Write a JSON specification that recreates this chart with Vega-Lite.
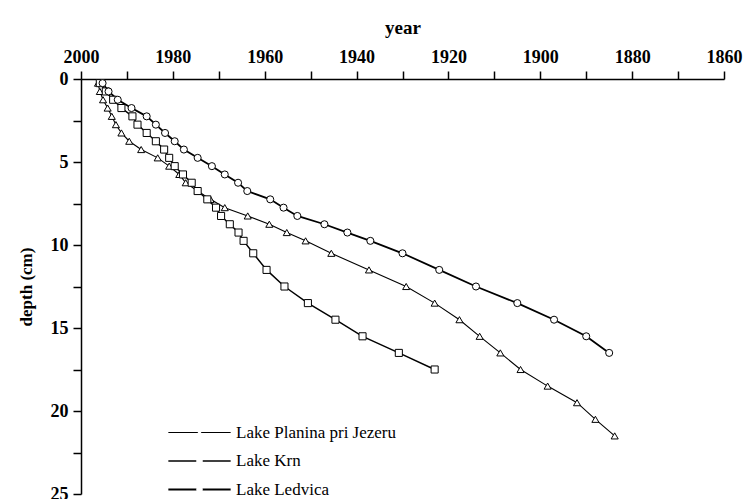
{
  "$schema": "https://vega.github.io/schema/vega-lite/v6.json",
  "width": 643,
  "height": 415,
  "autosize": "none",
  "padding": {"left": 81, "top": 79, "right": 24, "bottom": 5},
  "background": "white",
  "config": {"view": {"stroke": null}, "font": "Liberation Serif"},
  "data": {"values": [
    {"lake": "Lake Planina pri Jezeru", "depth": 0.25, "year": 1996.3},
    {"lake": "Lake Planina pri Jezeru", "depth": 0.75, "year": 1995.9},
    {"lake": "Lake Planina pri Jezeru", "depth": 1.25, "year": 1995.2},
    {"lake": "Lake Planina pri Jezeru", "depth": 1.75, "year": 1994.2},
    {"lake": "Lake Planina pri Jezeru", "depth": 2.25, "year": 1993.3},
    {"lake": "Lake Planina pri Jezeru", "depth": 2.75, "year": 1992.4},
    {"lake": "Lake Planina pri Jezeru", "depth": 3.25, "year": 1991.2},
    {"lake": "Lake Planina pri Jezeru", "depth": 3.75, "year": 1989.5},
    {"lake": "Lake Planina pri Jezeru", "depth": 4.25, "year": 1986.9},
    {"lake": "Lake Planina pri Jezeru", "depth": 4.75, "year": 1983.3},
    {"lake": "Lake Planina pri Jezeru", "depth": 5.25, "year": 1980.8},
    {"lake": "Lake Planina pri Jezeru", "depth": 5.75, "year": 1978.6},
    {"lake": "Lake Planina pri Jezeru", "depth": 6.25, "year": 1977.2},
    {"lake": "Lake Planina pri Jezeru", "depth": 6.75, "year": 1974.6},
    {"lake": "Lake Planina pri Jezeru", "depth": 7.25, "year": 1971.8},
    {"lake": "Lake Planina pri Jezeru", "depth": 7.75, "year": 1968.7},
    {"lake": "Lake Planina pri Jezeru", "depth": 8.25, "year": 1963.7},
    {"lake": "Lake Planina pri Jezeru", "depth": 8.75, "year": 1959.0},
    {"lake": "Lake Planina pri Jezeru", "depth": 9.25, "year": 1955.2},
    {"lake": "Lake Planina pri Jezeru", "depth": 9.75, "year": 1951.1},
    {"lake": "Lake Planina pri Jezeru", "depth": 10.5, "year": 1945.5},
    {"lake": "Lake Planina pri Jezeru", "depth": 11.5, "year": 1937.3},
    {"lake": "Lake Planina pri Jezeru", "depth": 12.5, "year": 1929.2},
    {"lake": "Lake Planina pri Jezeru", "depth": 13.5, "year": 1923.0},
    {"lake": "Lake Planina pri Jezeru", "depth": 14.5, "year": 1917.6},
    {"lake": "Lake Planina pri Jezeru", "depth": 15.5, "year": 1913.2},
    {"lake": "Lake Planina pri Jezeru", "depth": 16.5, "year": 1908.7},
    {"lake": "Lake Planina pri Jezeru", "depth": 17.5, "year": 1904.3},
    {"lake": "Lake Planina pri Jezeru", "depth": 18.5, "year": 1898.4},
    {"lake": "Lake Planina pri Jezeru", "depth": 19.5, "year": 1892.0},
    {"lake": "Lake Planina pri Jezeru", "depth": 20.5, "year": 1888.0},
    {"lake": "Lake Planina pri Jezeru", "depth": 21.5, "year": 1883.8},
    {"lake": "Lake Krn", "depth": 0.25, "year": 1995.9},
    {"lake": "Lake Krn", "depth": 0.75, "year": 1994.6},
    {"lake": "Lake Krn", "depth": 1.25, "year": 1993.0},
    {"lake": "Lake Krn", "depth": 1.75, "year": 1991.2},
    {"lake": "Lake Krn", "depth": 2.25, "year": 1988.8},
    {"lake": "Lake Krn", "depth": 2.75, "year": 1987.7},
    {"lake": "Lake Krn", "depth": 3.25, "year": 1985.7},
    {"lake": "Lake Krn", "depth": 3.75, "year": 1983.7},
    {"lake": "Lake Krn", "depth": 4.25, "year": 1981.9},
    {"lake": "Lake Krn", "depth": 4.75, "year": 1980.8},
    {"lake": "Lake Krn", "depth": 5.25, "year": 1979.6},
    {"lake": "Lake Krn", "depth": 5.75, "year": 1977.8},
    {"lake": "Lake Krn", "depth": 6.25, "year": 1975.9},
    {"lake": "Lake Krn", "depth": 6.75, "year": 1974.6},
    {"lake": "Lake Krn", "depth": 7.25, "year": 1972.5},
    {"lake": "Lake Krn", "depth": 7.75, "year": 1970.6},
    {"lake": "Lake Krn", "depth": 8.25, "year": 1969.5},
    {"lake": "Lake Krn", "depth": 8.75, "year": 1967.6},
    {"lake": "Lake Krn", "depth": 9.25, "year": 1965.7},
    {"lake": "Lake Krn", "depth": 9.75, "year": 1964.6},
    {"lake": "Lake Krn", "depth": 10.5, "year": 1962.5},
    {"lake": "Lake Krn", "depth": 11.5, "year": 1959.6},
    {"lake": "Lake Krn", "depth": 12.5, "year": 1955.7},
    {"lake": "Lake Krn", "depth": 13.5, "year": 1950.6},
    {"lake": "Lake Krn", "depth": 14.5, "year": 1944.6},
    {"lake": "Lake Krn", "depth": 15.5, "year": 1938.7},
    {"lake": "Lake Krn", "depth": 16.5, "year": 1930.8},
    {"lake": "Lake Krn", "depth": 17.5, "year": 1923.0},
    {"lake": "Lake Ledvica", "depth": 0.25, "year": 1995.3},
    {"lake": "Lake Ledvica", "depth": 0.75, "year": 1994.0},
    {"lake": "Lake Ledvica", "depth": 1.25, "year": 1992.0},
    {"lake": "Lake Ledvica", "depth": 1.75, "year": 1989.0},
    {"lake": "Lake Ledvica", "depth": 2.25, "year": 1985.7},
    {"lake": "Lake Ledvica", "depth": 2.75, "year": 1983.7},
    {"lake": "Lake Ledvica", "depth": 3.25, "year": 1981.7},
    {"lake": "Lake Ledvica", "depth": 3.75, "year": 1979.6},
    {"lake": "Lake Ledvica", "depth": 4.25, "year": 1977.6},
    {"lake": "Lake Ledvica", "depth": 4.75, "year": 1974.6},
    {"lake": "Lake Ledvica", "depth": 5.25, "year": 1971.5},
    {"lake": "Lake Ledvica", "depth": 5.75, "year": 1968.7},
    {"lake": "Lake Ledvica", "depth": 6.25, "year": 1965.8},
    {"lake": "Lake Ledvica", "depth": 6.75, "year": 1963.8},
    {"lake": "Lake Ledvica", "depth": 7.25, "year": 1958.8},
    {"lake": "Lake Ledvica", "depth": 7.75, "year": 1955.9},
    {"lake": "Lake Ledvica", "depth": 8.25, "year": 1952.9},
    {"lake": "Lake Ledvica", "depth": 8.75, "year": 1947.0},
    {"lake": "Lake Ledvica", "depth": 9.25, "year": 1942.0},
    {"lake": "Lake Ledvica", "depth": 9.75, "year": 1937.0},
    {"lake": "Lake Ledvica", "depth": 10.5, "year": 1930.0},
    {"lake": "Lake Ledvica", "depth": 11.5, "year": 1922.0},
    {"lake": "Lake Ledvica", "depth": 12.5, "year": 1914.0},
    {"lake": "Lake Ledvica", "depth": 13.5, "year": 1905.0},
    {"lake": "Lake Ledvica", "depth": 14.5, "year": 1897.0},
    {"lake": "Lake Ledvica", "depth": 15.5, "year": 1890.0},
    {"lake": "Lake Ledvica", "depth": 16.5, "year": 1885.0}
  ]},
  "encoding": {
    "x": {
      "field": "year", "type": "quantitative",
      "scale": {"domain": [1860, 2000], "reverse": true, "nice": false, "zero": false},
      "axis": {
        "orient": "top", "title": "year",
        "values": [1860, 1870, 1880, 1890, 1900, 1910, 1920, 1930, 1940, 1950, 1960, 1970, 1980, 1990, 2000],
        "labelExpr": "datum.value % 20 === 0 ? datum.label : ''",
        "format": "d", "grid": false, "labelOverlap": false, "labelFlush": false,
        "domainColor": "black", "domainWidth": 1.5, "tickColor": "black", "tickWidth": 1.5, "tickSize": 8,
        "labelFont": "Liberation Serif", "labelFontWeight": "bold", "labelFontSize": 18, "labelColor": "black", "labelPadding": 5,
        "titleFont": "Liberation Serif", "titleFontWeight": "bold", "titleFontSize": 19, "titleColor": "black", "titlePadding": 11,
        "encode": {"ticks": {"enter": {"y2": {"signal": "datum.value % 20 === 0 ? -8 : -4"}}, "update": {"y2": {"signal": "datum.value % 20 === 0 ? -8 : -4"}}}}
      }
    },
    "y": {
      "field": "depth", "type": "quantitative",
      "scale": {"domain": [0, 25], "reverse": true, "nice": false},
      "axis": {
        "orient": "left", "title": "depth (cm)",
        "values": [0, 2.5, 5, 7.5, 10, 12.5, 15, 17.5, 20, 22.5, 25],
        "labelExpr": "datum.value % 5 === 0 ? datum.label : ''",
        "grid": false, "labelOverlap": false, "labelFlush": false,
        "domainColor": "black", "domainWidth": 1.5, "tickColor": "black", "tickWidth": 1.5, "tickSize": 8,
        "labelFont": "Liberation Serif", "labelFontWeight": "bold", "labelFontSize": 18, "labelColor": "black", "labelPadding": 5,
        "titleFont": "Liberation Serif", "titleFontWeight": "bold", "titleFontSize": 17, "titleColor": "black", "titlePadding": 15,
        "encode": {"ticks": {"enter": {"x2": {"signal": "datum.value % 5 === 0 ? -8 : -4"}}, "update": {"x2": {"signal": "datum.value % 5 === 0 ? -8 : -4"}}}}
      }
    }
  },
  "layer": [
    {
      "mark": {"type": "line", "color": "black"},
      "encoding": {
        "detail": {"field": "lake", "type": "nominal"},
        "order": {"field": "depth", "type": "quantitative"},
        "strokeWidth": {
          "field": "lake", "type": "nominal",
          "sort": ["Lake Planina pri Jezeru", "Lake Krn", "Lake Ledvica"],
          "scale": {"range": [1.1, 1.8, 1.8]},
          "legend": {
            "title": null, "orient": "none", "legendX": 110, "legendY": 345, "padding": 0, "zindex": 1,
            "symbolType": "M-8.9,0H8.9", "symbolSize": 49, "symbolStrokeColor": "black",
            "labelFont": "Liberation Serif", "labelFontSize": 17, "labelColor": "black", "labelOpacity": 0, "labelOffset": 28, "labelLimit": 0,
            "rowPadding": 10.5
          }
        }
      }
    },
    {
      "mark": {"type": "point", "filled": false, "color": "black", "fill": "white", "fillOpacity": 1, "stroke": "black", "strokeWidth": 1, "size": 50, "opacity": 1},
      "encoding": {
        "shape": {"field": "lake", "type": "nominal",
          "scale": {"domain": ["Lake Planina pri Jezeru", "Lake Krn", "Lake Ledvica"], "range": ["triangle-up", "square", "circle"]},
          "legend": {
            "title": null, "orient": "none", "legendX": 110, "legendY": 345, "padding": 0, "zindex": 2,
            "symbolSize": 42, "symbolStrokeColor": "black", "symbolFillColor": "white", "symbolStrokeWidth": 1.1, "symbolOpacity": 1,
            "labelFont": "Liberation Serif", "labelFontSize": 17, "labelColor": "black", "labelOffset": 28, "labelLimit": 0,
            "rowPadding": 10.5,
            "encode": {"symbols": {
              "fill": {"value": "white"},
              "fillOpacity": {"value": 1}
            }}
          }
        }
      }
    }
  ]
}
